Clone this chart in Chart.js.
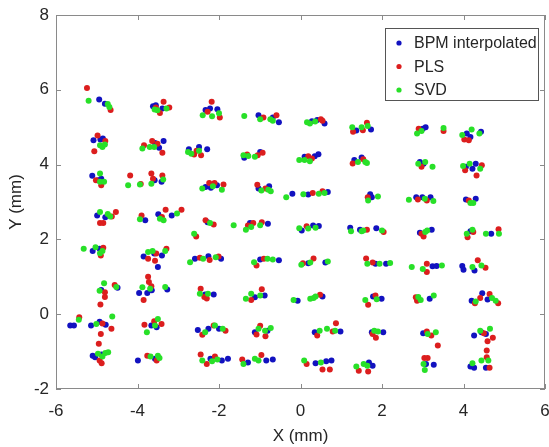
<!DOCTYPE html>
<html>
<head>
<meta charset="utf-8">
<script src="https://cdn.jsdelivr.net/npm/chart.js@4.4.1/dist/chart.umd.min.js"></script>
<style>
  html, body { margin: 0; padding: 0; background: #fff; }
  #wrap { width: 549px; height: 447px; }
</style>
</head>
<body>
<div id="wrap"><canvas id="chart"></canvas></div>
<script>
// series names
const seriesNames = ["BPM interpolated", "PLS", "SVD"];
const seriesColors = ["#1212c0", "#dc1e1e", "#28e028"];

// tick labels
const xTicks = [-6, -4, -2, 0, 2, 4, 6];
const yTicks = [-2, 0, 2, 4, 6, 8];

// measured points, [x, y] in mm
const bpmPoints = [
  [-4.94,5.74],[-4.80,5.63],[-3.62,5.56],[-3.55,5.59],[-3.39,5.50],[-2.33,5.46],[-2.04,5.48],[-2.22,5.50],
  [-1.03,5.32],[-0.68,5.26],[-0.53,5.13],[0.28,5.16],[0.41,5.19],[0.59,5.10],[1.37,4.91],[1.73,4.94],
  [3.00,4.96],[3.07,5.00],[4.08,4.83],[4.43,4.88],[4.17,4.74],
  [-5.08,4.65],[-4.91,4.67],[-4.85,4.70],[-3.57,4.58],[-3.47,4.45],[-3.36,4.63],[-2.74,4.41],[-2.49,4.47],
  [-2.29,4.41],[-1.38,4.18],[-0.99,4.34],[0.10,4.21],[0.35,4.22],[0.44,4.28],[1.32,4.12],[1.50,4.19],
  [2.93,4.07],[3.02,4.02],[4.06,3.94],[4.30,4.02],[4.22,3.89],
  [-5.11,3.70],[-4.89,3.62],[-4.97,3.58],[-3.58,3.58],[-3.41,3.54],[-2.33,3.40],[-2.20,3.38],[-2.05,3.45],
  [-1.03,3.36],[-0.77,3.42],[-0.20,3.22],[0.19,3.20],[0.67,3.27],[1.71,3.21],[1.75,3.13],[2.84,3.13],
  [2.99,3.13],[3.19,3.13],[4.06,3.07],[4.30,3.09],
  [-4.99,2.64],[-4.79,2.59],[-3.81,2.51],[-3.49,2.67],[-3.16,2.64],[-2.28,2.46],[-1.24,2.44],[-0.80,2.42],
  [0.03,2.24],[0.31,2.37],[0.45,2.36],[1.22,2.31],[1.46,2.26],[1.86,2.30],[2.93,2.18],[3.22,2.26],
  [4.17,2.22],[4.68,2.15],
  [-5.10,1.69],[-4.93,1.75],[-3.85,1.54],[-3.59,1.62],[-3.50,1.26],[-3.40,1.57],[-2.59,1.48],[-2.26,1.55],
  [-1.95,1.48],[-0.99,1.46],[-0.53,1.44],[0.19,1.36],[0.61,1.38],[1.84,1.35],[2.10,1.35],[3.24,1.28],
  [3.34,1.29],[3.97,1.29],[4.00,1.19],[4.27,1.17],
  [-4.89,0.65],[-4.49,0.71],[-3.96,0.57],[-3.76,0.57],[-3.65,0.64],[-3.27,0.66],[-2.34,0.53],[-2.13,0.53],
  [-1.12,0.45],[-0.88,0.50],[-0.07,0.36],[0.54,0.47],[1.78,0.47],[1.99,0.41],[3.17,0.41],[4.20,0.36],
  [4.46,0.56],[4.59,0.39],
  [-5.65,-0.30],[-5.56,-0.30],[-5.14,-0.30],[-4.93,-0.20],[-4.78,-0.28],[-3.66,-0.30],[-3.53,-0.35],
  [-2.52,-0.42],[-2.26,-0.39],[-2.00,-0.39],[-1.12,-0.48],[-0.81,-0.44],[0.35,-0.48],[0.98,-0.46],
  [1.75,-0.48],[2.03,-0.48],[3.01,-0.51],[4.26,-0.57],[4.55,-0.53],[4.44,-0.48],
  [-5.10,-1.11],[-5.04,-1.15],[-4.88,-1.08],[-3.99,-1.24],[-3.57,-1.19],[-2.21,-1.19],[-1.93,-1.24],
  [-1.78,-1.19],[-1.29,-1.29],[-0.84,-1.24],[-0.68,-1.21],[0.37,-1.31],[0.63,-1.26],[0.76,-1.24],
  [1.68,-1.29],[1.77,-1.38],[3.08,-1.33],[3.27,-1.35],[4.17,-1.40],[4.26,-1.43],[4.55,-1.43]
];

const plsPoints = [
  [-5.24,6.05],[-4.66,5.46],[-3.36,5.68],[-3.45,5.38],[-3.22,5.53],[-3.55,5.53],[-2.18,5.68],[-2.28,5.41],
  [-1.98,5.26],[-0.91,5.26],[-0.59,5.32],[0.50,5.21],[0.54,5.17],[1.29,4.88],[1.63,5.12],[1.53,4.92],
  [2.90,4.96],[3.51,4.90],[4.02,4.67],[4.13,4.65],
  [-4.98,4.78],[-5.06,4.36],[-4.79,4.63],[-3.84,4.52],[-3.64,4.63],[-3.51,4.56],[-3.39,4.32],[-2.61,4.27],
  [-2.55,4.37],[-2.44,4.25],[-1.31,4.27],[-1.05,4.25],[-0.93,4.32],[0.19,4.22],[0.28,4.16],[1.28,4.03],
  [1.54,4.14],[2.97,3.94],[4.04,3.85],[4.45,3.98],[4.32,3.71],
  [-5.02,3.58],[-4.89,3.45],[-4.18,3.71],[-3.92,3.48],[-3.66,3.76],[-3.62,3.62],[-3.39,3.71],[-2.24,3.51],
  [-2.11,3.51],[-1.89,3.47],[-1.06,3.46],[-0.86,3.36],[0.30,3.24],[0.54,3.29],[1.65,3.13],[2.88,3.07],
  [3.10,3.04],[4.13,3.04],
  [-4.92,2.44],[-4.84,2.44],[-4.63,2.61],[-4.53,2.73],[-3.90,2.64],[-3.31,2.79],[-2.92,2.79],[-3.40,2.60],
  [-2.56,2.08],[-2.33,2.51],[-2.13,2.40],[-1.29,2.37],[-0.95,2.46],[-1.16,2.44],[0.15,2.35],[1.63,2.26],
  [2.04,2.20],[3.02,2.08],[2.97,2.15],[4.10,2.06],[4.24,2.20],[4.86,2.27],
  [-4.84,1.78],[-4.90,1.57],[-3.74,1.48],[-3.54,1.62],[-3.57,1.43],[-3.29,1.75],[-2.47,1.51],[-2.23,1.45],
  [-2.01,1.54],[-1.08,1.30],[-0.90,1.48],[0.06,1.36],[0.32,1.49],[1.61,1.49],[1.77,1.38],[3.10,1.35],
  [3.10,1.13],[4.35,1.44],[4.54,1.24],
  [-4.91,0.26],[-4.80,0.59],[-4.80,0.46],[-4.56,0.78],[-3.85,0.38],[-3.74,1.00],[-3.72,0.86],[-3.66,0.75],
  [-2.45,0.68],[-2.36,0.46],[-2.30,0.42],[-1.21,0.38],[-0.95,0.67],[0.48,0.52],[1.66,0.25],[1.84,0.50],
  [2.86,0.36],[2.83,0.45],[4.41,0.43],[4.64,0.54],[4.85,0.29],[4.28,0.29],
  [-5.43,-0.08],[-4.90,-0.53],[-4.95,-0.79],[-4.86,-0.25],[-4.64,-0.39],[-3.83,-0.28],[-3.59,-0.19],
  [-3.41,-0.26],[-2.41,-0.55],[-2.13,-0.30],[-1.84,-0.44],[-1.08,-0.54],[-0.99,-0.31],[-0.86,-0.59],
  [0.41,-0.57],[0.79,-0.46],[0.87,-0.24],[1.85,-0.63],[1.77,-0.53],[3.10,-0.46],[3.21,-0.57],[3.37,-0.84],
  [4.50,-0.51],[4.72,-0.63],[4.59,-0.72],
  [-4.93,-1.24],[-4.88,-1.31],[-3.76,-1.11],[-3.53,-1.24],[-2.45,-1.08],[-2.30,-1.33],[-2.10,-1.13],
  [-1.43,-1.21],[-0.96,-1.09],[0.15,-1.33],[0.54,-1.48],[0.72,-1.48],[1.43,-1.51],[1.66,-1.53],
  [3.04,-1.17],[3.12,-1.17],[4.57,-1.15],[4.64,-1.43],[4.57,-0.97]
];

const svdPoints = [
  [-5.20,5.71],[-4.73,5.62],[-4.69,5.54],[-3.58,5.47],[-3.51,5.45],[-3.29,5.50],[-2.40,5.32],[-2.17,5.29],
  [-2.00,5.37],[-1.38,5.30],[-0.99,5.21],[-0.74,5.21],[-0.68,5.17],[0.16,5.13],[0.23,5.10],[0.36,5.15],
  [1.27,5.00],[1.50,5.00],[1.65,5.03],[2.86,4.83],[2.97,4.90],[3.51,4.98],[3.97,4.79],[4.20,4.94],[4.39,4.83],
  [-4.92,4.52],[-4.86,4.47],[-4.80,4.54],[-3.88,4.43],[-3.70,4.47],[-3.59,4.47],[-2.68,4.29],[-2.49,4.37],
  [-2.76,4.34],[-1.40,4.25],[-1.28,4.23],[-1.12,4.21],[-0.03,4.12],[0.23,4.09],[0.10,4.12],[1.41,4.07],
  [1.59,4.07],[1.63,4.04],[2.89,4.02],[3.06,4.07],[3.24,3.94],[4.15,4.02],[4.41,3.89],[3.99,3.96],
  [-4.92,3.76],[-4.92,3.54],[-4.82,3.54],[-4.23,3.45],[-3.94,3.47],[-3.66,3.49],[-3.37,3.60],[-2.41,3.36],
  [-2.15,3.42],[-1.93,3.33],[-0.96,3.31],[-0.79,3.33],[-0.73,3.29],[-0.35,3.13],[0.07,3.21],[0.45,3.22],
  [0.59,3.24],[1.66,3.04],[1.90,3.15],[2.66,3.06],[3.26,3.03],[3.05,3.09],[4.17,2.97],[4.24,2.97],
  [-4.92,2.73],[-4.73,2.68],[-4.67,2.61],[-3.94,2.54],[-3.45,2.55],[-3.36,2.51],[-3.03,2.69],[-2.61,2.15],
  [-2.22,2.44],[-1.64,2.38],[-1.34,2.26],[-1.21,2.33],[-0.99,2.38],[-0.03,2.30],[0.19,2.29],[0.37,2.31],
  [1.24,2.22],[1.54,2.24],[2.00,2.24],[1.50,2.22],[3.06,2.20],[3.11,2.24],[4.08,2.15],[4.22,2.26],
  [4.55,2.15],[4.87,2.15],
  [-5.32,1.75],[-5.03,1.79],[-4.92,1.63],[-4.86,1.69],[-3.74,1.66],[-3.63,1.69],[-3.32,1.69],[-2.71,1.39],
  [-2.39,1.48],[-2.08,1.52],[-1.14,1.39],[-0.81,1.48],[-0.68,1.46],[0.02,1.32],[0.24,1.38],[0.67,1.41],
  [1.64,1.35],[1.94,1.35],[2.20,1.37],[2.73,1.26],[3.00,1.21],[3.47,1.30],[4.22,1.26],[4.44,1.30],
  [-4.93,0.63],[-4.82,0.83],[-4.52,0.73],[-3.88,0.72],[-3.69,0.68],[-3.32,0.73],[-2.47,0.55],[-2.27,0.55],
  [-1.34,0.41],[-1.21,0.55],[-0.99,0.50],[-0.17,0.38],[0.24,0.41],[0.37,0.47],[0.32,0.43],[1.59,0.38],
  [1.87,0.40],[2.89,0.46],[3.27,0.50],[2.95,0.38],[4.30,0.34],[4.70,0.43],[4.79,0.36],
  [-5.44,-0.15],[-5.01,-0.26],[-4.62,-0.06],[-3.77,-0.48],[-3.50,-0.13],[-3.57,-0.30],[-2.34,-0.48],
  [-2.10,-0.30],[-1.91,-0.39],[-1.03,-0.39],[-0.87,-0.44],[-0.73,-0.37],[0.47,-0.44],[0.65,-0.39],
  [0.85,-0.44],[1.81,-0.44],[1.90,-0.46],[3.12,-0.53],[3.32,-0.48],[4.41,-0.44],[4.65,-0.39],
  [-4.97,-1.06],[-4.79,-1.04],[-4.72,-1.02],[-4.86,-1.13],[-3.68,-1.13],[-3.50,-1.11],[-3.46,-1.17],
  [-2.41,-1.24],[-2.04,-1.21],[-2.17,-1.26],[-1.40,-1.33],[-1.12,-1.19],[-1.03,-1.24],[0.09,-1.24],
  [0.50,-1.29],[1.37,-1.40],[1.55,-1.33],[1.64,-1.38],[3.02,-1.33],[3.05,-1.49],[4.22,-1.31],[4.44,-1.24],
  [4.61,-1.24]
];

const toXY = pts => pts.map(p => ({ x: p[0], y: p[1] }));
const axisGray = "#8a8a8a";
const textGray = "#262626";

// matlab style box, inward ticks and legend inside the axes
const matlabFrame = {
  id: "matlabFrame",
  afterDraw(chart) {
    const { ctx, chartArea: a, scales } = chart;
    ctx.save();
    ctx.strokeStyle = axisGray;
    ctx.lineWidth = 1;
    ctx.strokeRect(a.left + 0.5, a.top + 0.5, a.right - a.left - 1, a.bottom - a.top - 1);
    ctx.beginPath();
    xTicks.forEach(v => {
      const px = Math.round(scales.x.getPixelForValue(v)) + 0.5;
      ctx.moveTo(px, a.bottom); ctx.lineTo(px, a.bottom - 5);
      ctx.moveTo(px, a.top); ctx.lineTo(px, a.top + 5);
    });
    yTicks.forEach(v => {
      const py = Math.round(scales.y.getPixelForValue(v)) + 0.5;
      ctx.moveTo(a.left, py); ctx.lineTo(a.left + 5, py);
      ctx.moveTo(a.right, py); ctx.lineTo(a.right - 5, py);
    });
    ctx.stroke();

    // legend
    const bx = 385, by = 28, bw = 153, bh = 72;
    ctx.fillStyle = "#fff";
    ctx.fillRect(bx, by, bw, bh);
    ctx.strokeStyle = "#555";
    ctx.strokeRect(bx + 0.5, by + 0.5, bw, bh);
    ctx.font = "16px 'Liberation Sans', Arial, sans-serif";
    ctx.textBaseline = "middle";
    chart.data.datasets.forEach((ds, i) => {
      const cy = by + 15 + i * 23.5;
      ctx.fillStyle = ds.backgroundColor;
      ctx.beginPath();
      ctx.arc(bx + 14, cy, 2.6, 0, Math.PI * 2);
      ctx.fill();
      ctx.fillStyle = textGray;
      ctx.fillText(ds.label, bx + 29, cy + 1);
    });
    ctx.restore();
  }
};

const datasets = [bpmPoints, plsPoints, svdPoints].map((pts, i) => ({
  label: seriesNames[i],
  data: toXY(pts),
  backgroundColor: seriesColors[i],
  borderColor: seriesColors[i],
  borderWidth: 0,
  pointRadius: 3,
  pointHoverRadius: 3,
  order: 2 - i
}));

const tickFont = { family: "'Liberation Sans', Arial, sans-serif", size: 17 };

new Chart(document.getElementById("chart"), {
  type: "scatter",
  data: { datasets: datasets },
  options: {
    responsive: true,
    maintainAspectRatio: false,
    animation: false,
    layout: { padding: { left: 0, right: 4, top: 15, bottom: 0 } },
    plugins: { legend: { display: false }, tooltip: { enabled: false } },
    scales: {
      x: {
        type: "linear",
        min: -6, max: 6,
        afterBuildTicks: s => { s.ticks = xTicks.map(v => ({ value: v })); },
        ticks: { font: tickFont, color: textGray, padding: 12, maxRotation: 0 },
        grid: { display: false, drawTicks: false },
        border: { display: false },
        title: { display: true, text: "X (mm)", font: tickFont, color: textGray, padding: { top: 0, bottom: 0 } },
        afterFit: s => { s.height = 58; s.paddingLeft = 0; s.paddingRight = 0; }
      },
      y: {
        type: "linear",
        min: -2, max: 8,
        afterBuildTicks: s => { s.ticks = yTicks.map(v => ({ value: v })); },
        ticks: { font: tickFont, color: textGray, padding: 7 },
        grid: { display: false, drawTicks: false },
        border: { display: false },
        title: { display: true, text: "Y (mm)", font: tickFont, color: textGray, padding: { top: 6, bottom: 0 } },
        afterFit: s => { s.width = 56; s.paddingTop = 0; s.paddingBottom = 0; }
      }
    }
  },
  plugins: [matlabFrame]
});
</script>
</body>
</html>
